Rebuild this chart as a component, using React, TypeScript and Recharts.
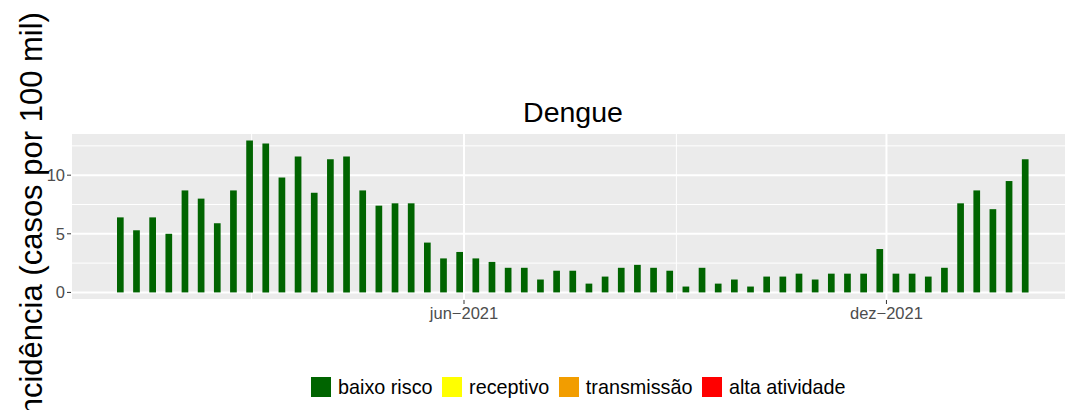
import React from 'react';
import { BarChart, Bar, XAxis, YAxis, CartesianGrid } from 'recharts';

// semanas epidemiológicas (início de cada semana)
const semanas = [
  '2021-01-03', '2021-01-10', '2021-01-17', '2021-01-24', '2021-01-31',
  '2021-02-07', '2021-02-14', '2021-02-21', '2021-02-28',
  '2021-03-07', '2021-03-14', '2021-03-21', '2021-03-28',
  '2021-04-04', '2021-04-11', '2021-04-18', '2021-04-25',
  '2021-05-02', '2021-05-09', '2021-05-16', '2021-05-23', '2021-05-30',
  '2021-06-06', '2021-06-13', '2021-06-20', '2021-06-27',
  '2021-07-04', '2021-07-11', '2021-07-18', '2021-07-25',
  '2021-08-01', '2021-08-08', '2021-08-15', '2021-08-22', '2021-08-29',
  '2021-09-05', '2021-09-12', '2021-09-19', '2021-09-26',
  '2021-10-03', '2021-10-10', '2021-10-17', '2021-10-24', '2021-10-31',
  '2021-11-07', '2021-11-14', '2021-11-21', '2021-11-28',
  '2021-12-05', '2021-12-12', '2021-12-19', '2021-12-26',
  '2022-01-02', '2022-01-09', '2022-01-16', '2022-01-23', '2022-01-30',
];

// incidência semanal (casos por 100 mil)
const incidencia = [
  6.4, 5.3, 6.4, 5.0, 8.7, 8.0, 5.9, 8.7, 12.95,
  12.7, 9.8, 11.6, 8.5, 11.35, 11.6, 8.7, 7.4,
  7.6, 7.6, 4.25, 2.9, 3.45, 2.9, 2.6, 2.1, 2.1,
  1.1, 1.85, 1.85, 0.75, 1.35, 2.1, 2.35, 2.1, 1.85,
  0.5, 2.1, 0.75, 1.1, 0.5, 1.35, 1.35, 1.6, 1.1,
  1.6, 1.6, 1.6, 3.7, 1.6, 1.6, 1.35, 2.1,
  7.6, 8.7, 7.1, 9.5, 11.35,
];

const ticksXDatas = ['2021-06-01', '2021-12-01'];
const rotulosX = ['jun\u22122021', 'dez\u22122021'];
const gradeMenorXDatas = ['2021-03-01', '2021-09-01'];
const ticksY = [0, 5, 10];
const gradeMenorY = [2.5, 7.5, 12.5];

const categorias = ['baixo risco', 'receptivo', 'transmissão', 'alta atividade'];
const cores = ['#006400', '#FFFF00', '#F29D00', '#FF0000'];

const DIA = 86400000;
const paraDia = (s: string) => Date.parse(s) / DIA;

const dados = semanas.map((s, i) => ({ dia: paraDia(s), valor: incidencia[i] }));

// expansão de 5% como no ggplot
const meiaLargura = 1.5;
const xMin = dados[0].dia - meiaLargura;
const xMax = dados[dados.length - 1].dia + meiaLargura;
const xExp = (xMax - xMin) * 0.05;
const dominioX: [number, number] = [xMin - xExp, xMax + xExp];

const yMax = Math.max(...incidencia);
const dominioY: [number, number] = [-yMax * 0.05, yMax * 1.05];

const ticksX = ticksXDatas.map(paraDia);
const gradeMenorX = gradeMenorXDatas.map(paraDia);
const rotuloDe = (v: number) => {
  const i = ticksX.indexOf(v);
  return i >= 0 ? rotulosX[i] : '';
};

const FONTE = '"Liberation Sans", Arial, sans-serif';

const App: React.FC = () => {
  return (
    <div style={{ position: 'absolute', left: 0, top: 0, width: 1065, height: 410, overflow: 'hidden', background: '#fff', fontFamily: FONTE }}>
      <BarChart
        width={1074}
        height={410}
        data={dados}
        margin={{ top: 133, right: 0, bottom: 80, left: 0 }}
      >
        <XAxis xAxisId="menor" dataKey="dia" type="number" domain={dominioX} ticks={gradeMenorX} allowDataOverflow hide />
        <YAxis yAxisId="menor" type="number" domain={dominioY} ticks={gradeMenorY} allowDataOverflow hide />
        <CartesianGrid xAxisId="menor" yAxisId="menor" stroke="#FFFFFF" strokeWidth={1} fill="#EBEBEB" />
        <CartesianGrid stroke="#FFFFFF" strokeWidth={2} />
        <XAxis
          dataKey="dia"
          type="number"
          domain={dominioX}
          ticks={ticksX}
          allowDataOverflow
          tickFormatter={rotuloDe}
          height={30}
          axisLine={false}
          tickSize={4}
          tickMargin={3}
          tickLine={{ stroke: '#333333' }}
          tick={{ fill: '#4D4D4D', fontSize: 16.5, fontFamily: FONTE }}
        />
        <YAxis
          type="number"
          domain={dominioY}
          ticks={ticksY}
          allowDataOverflow
          width={71}
          axisLine={false}
          tickSize={4}
          tickMargin={2}
          tickLine={{ stroke: '#333333' }}
          tick={{ fill: '#4D4D4D', fontSize: 16.5, fontFamily: FONTE }}
        />
        <Bar dataKey="valor" fill={cores[0]} barSize={6.7} isAnimationActive={false} />
      </BarChart>

      <svg width={1065} height={410} style={{ position: 'absolute', left: 0, top: 0, pointerEvents: 'none' }}>
        <text x={573} y={122} textAnchor="middle" fontSize={28.5} fontFamily={FONTE} fill="#000">Dengue</text>
        <text
          x={42}
          y={218}
          transform="rotate(-90 42 218)"
          textAnchor="middle"
          fontSize={31}
          fontFamily={FONTE}
          fill="#000"
        >
          Incidência (casos por 100 mil)
        </text>
      </svg>

      <div style={{ position: 'absolute', left: 311, top: 377, display: 'flex', alignItems: 'center', fontSize: 19.8, lineHeight: '20px', color: '#000' }}>
        {categorias.map((c, i) => (
          <div key={c} style={{ display: 'flex', alignItems: 'center', marginRight: 9.5 }}>
            <span style={{ width: 20, height: 20, background: cores[i], display: 'inline-block' }} />
            <span style={{ marginLeft: 7 }}>{c}</span>
          </div>
        ))}
      </div>
    </div>
  );
};

export default App;
